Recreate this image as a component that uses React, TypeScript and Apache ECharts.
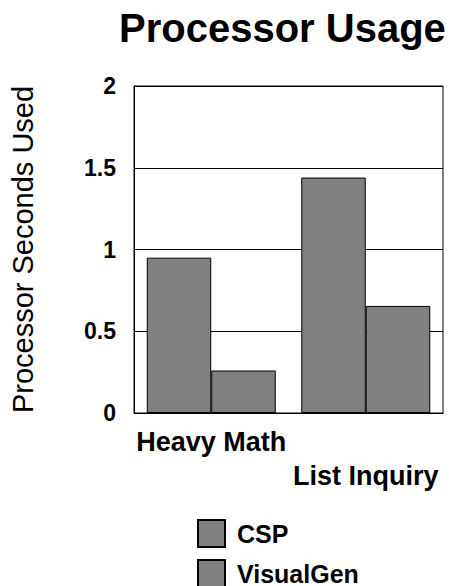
import React, { useEffect, useRef } from "react";
import * as echarts from "echarts";

const categories = ["Heavy Math", "List Inquiry"];
const cspValues = [0.95, 1.44];
const visualGenValues = [0.26, 0.655];
const seriesNames = ["CSP", "VisualGen"];
const yTicks = { min: 0, max: 2, interval: 0.5 };

const FONT = "Liberation Sans";

export default function App() {
  const ref = useRef<HTMLDivElement>(null);
  useEffect(() => {
    if (!ref.current) return;
    const chart = echarts.init(ref.current, null, { renderer: "svg" });
    const barStyle = { color: "#808080", borderColor: "#000", borderWidth: 1 };
    const legendText = { fontFamily: FONT, fontWeight: "bold", fontSize: 25, color: "#000", padding: [0, 0, 0, 7] };
    chart.setOption({
      animation: false,
      backgroundColor: "#fff",
      textStyle: { fontFamily: FONT },
      title: {
        text: "Processor Usage",
        left: 119,
        top: 8,
        padding: 0,
        textStyle: { fontFamily: FONT, fontWeight: "bold", fontSize: 40, color: "#000" },
      },
      grid: {
        left: 131,
        right: 15,
        top: 86,
        bottom: 173,
        show: true,
        borderColor: "#000",
        borderWidth: 1,
        backgroundColor: "transparent",
      },
      legend: [
        {
          left: 197,
          top: 519,
          padding: 0,
          itemWidth: 27,
          itemHeight: 27,
          icon: "rect",
          data: [seriesNames[0]],
          textStyle: legendText,
        },
        {
          left: 197,
          top: 559,
          padding: 0,
          itemWidth: 27,
          itemHeight: 27,
          icon: "rect",
          data: [seriesNames[1]],
          textStyle: legendText,
        },
      ],
      xAxis: {
        type: "category",
        data: categories,
        axisLine: { lineStyle: { color: "#000", width: 1 } },
        axisTick: { show: false },
        axisLabel: {
          interval: 0,
          margin: 12,
          fontFamily: FONT,
          fontWeight: "bold",
          fontSize: 27,
          color: "#000",
          lineHeight: 34,
          formatter: (v: string, i: number) => (i % 2 === 1 ? "\n" + v : v),
        },
      },
      yAxis: {
        type: "value",
        min: yTicks.min,
        max: yTicks.max,
        interval: yTicks.interval,
        name: "Processor Seconds Used",
        nameLocation: "middle",
        nameGap: 97,
        nameTextStyle: { fontFamily: FONT, fontSize: 29, color: "#000" },
        axisLine: { show: true, lineStyle: { color: "#000", width: 1 } },
        axisTick: { show: false },
        splitLine: { lineStyle: { color: "#000", width: 1 } },
        axisLabel: {
          margin: 18,
          fontFamily: FONT,
          fontWeight: "bold",
          fontSize: 23,
          color: "#000",
        },
      },
      series: [
        {
          name: seriesNames[0],
          type: "bar",
          data: cspValues,
          barWidth: 64.5,
          barGap: "0%",
          itemStyle: barStyle,
        },
        {
          name: seriesNames[1],
          type: "bar",
          data: visualGenValues,
          barWidth: 64.5,
          barGap: "0%",
          itemStyle: barStyle,
        },
      ],
    });
    return () => chart.dispose();
  }, []);
  return <div ref={ref} style={{ width: 458, height: 586, position: "absolute", left: 0, top: 0 }} />;
}
